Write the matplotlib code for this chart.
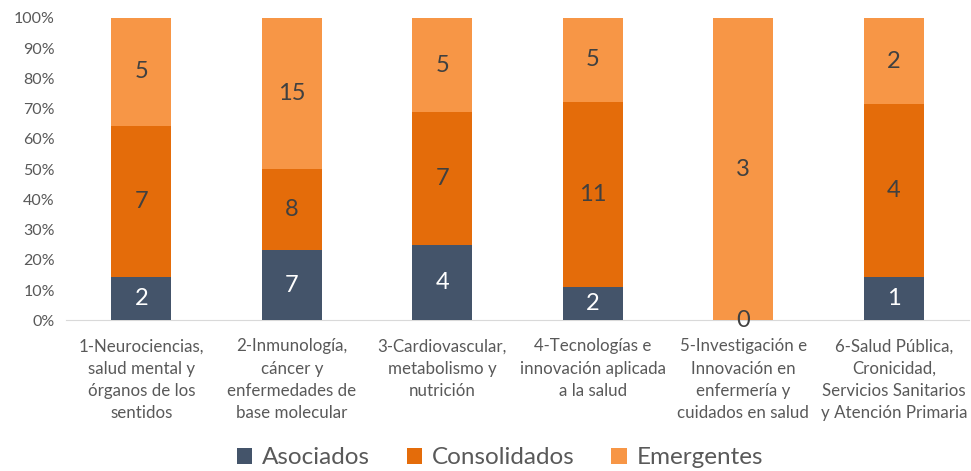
import matplotlib
matplotlib.use("Agg")
import matplotlib.pyplot as plt
import numpy as np
from matplotlib.ticker import PercentFormatter

categories = ["1-Neurociencias,\nsalud mental y\nórganos de los\nsentidos",
              "2-Inmunología,\ncáncer y\nenfermedades de\nbase molecular",
              "3-Cardiovascular,\nmetabolismo y\nnutrición",
              "4-Tecnologías e\ninnovación aplicada\na la salud",
              "5-Investigación e\nInnovación en\nenfermería y\ncuidados en salud",
              "6-Salud Pública,\nCronicidad,\nServicios Sanitarios\ny Atención Primaria"]
asociados = [2, 7, 4, 2, 0, 1]
consolidados = [7, 8, 7, 11, 0, 4]
emergentes = [5, 15, 5, 5, 3, 2]
series_names = ["Asociados", "Consolidados", "Emergentes"]
colors = ["#44546A", "#E46C0A", "#F79646"]
text_colors = ["white", "#404040", "#404040"]

plt.rcParams['font.family'] = ['Lato', 'DejaVu Sans']

data = np.array([asociados, consolidados, emergentes], dtype=float)
totals = data.sum(axis=0)
pct = data / totals * 100

fig = plt.figure(figsize=(9.71, 4.71), dpi=100)
ax = fig.add_axes([0.068, 0.32, 0.93, 0.642])
x = np.arange(len(categories))
bottom = np.zeros(len(categories))
for i, name in enumerate(series_names):
    ax.bar(x, pct[i], 0.4, bottom=bottom, color=colors[i], label=name, zorder=2)
    for j in range(len(categories)):
        v = data[i, j]
        if v > 0:
            ax.text(x[j], bottom[j] + pct[i, j] / 2, f"{int(v)}", ha='center', va='center',
                    fontsize=17, color=text_colors[i], zorder=3)
        elif i == 0:
            ax.text(x[j], bottom[j], "0", ha='center', va='center',
                    fontsize=17, color="#404040", zorder=3)
    bottom += pct[i]

ax.set_ylim(0, 100)
ax.set_xlim(-0.5, len(categories) - 0.5)
ax.yaxis.set_major_locator(plt.MultipleLocator(10))
ax.yaxis.set_major_formatter(PercentFormatter(decimals=0))
ax.set_xticks(x)
ax.set_xticklabels(categories, fontsize=12.2, color="#595959", linespacing=1.48)
ax.tick_params(axis='y', labelsize=11.5, labelcolor="#595959", length=0, pad=8)
ax.tick_params(axis='x', length=0, pad=13)
for s in ['top', 'right', 'left']:
    ax.spines[s].set_visible(False)
ax.spines['bottom'].set_color("#D9D9D9")
ax.spines['bottom'].set_zorder(1)

handles, labels = ax.get_legend_handles_labels()
fig.legend(handles, labels, loc='center', bbox_to_anchor=(0.515, 0.028), ncol=3,
           frameon=False, fontsize=17.5, handlelength=0.65, handleheight=0.65,
           handletextpad=0.4, columnspacing=1.5, labelcolor="#595959")

fig.savefig("out.png", dpi=100)
